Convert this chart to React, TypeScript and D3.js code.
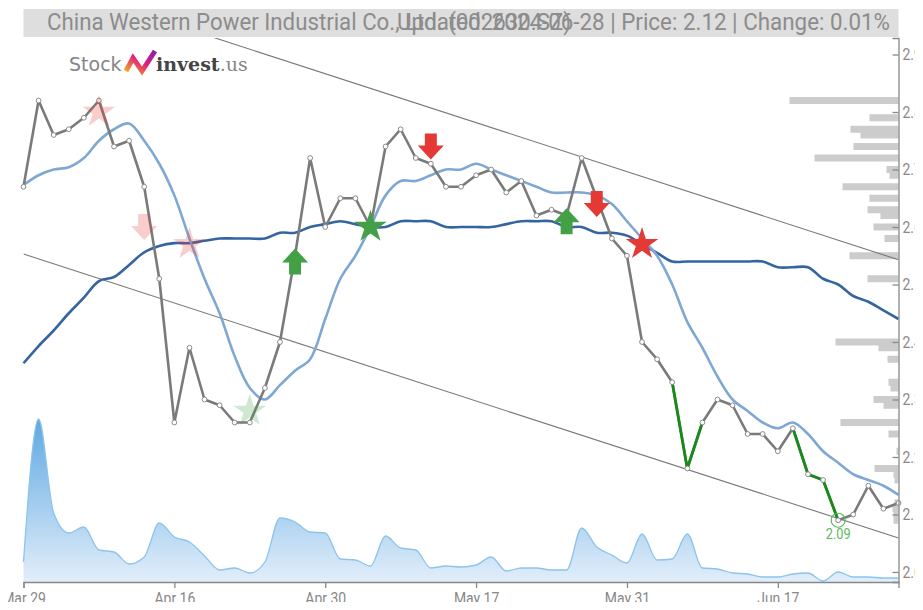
import React, { useRef, useEffect } from "react";
import * as d3 from "d3";

// trading days shown on the x axis
const dates = [
  "2024-03-29", "2024-04-01", "2024-04-02", "2024-04-03", "2024-04-08", "2024-04-09", "2024-04-10", "2024-04-11", "2024-04-12", "2024-04-15",
  "2024-04-16", "2024-04-17", "2024-04-18", "2024-04-19", "2024-04-22", "2024-04-23", "2024-04-24", "2024-04-25", "2024-04-26", "2024-04-29",
  "2024-04-30", "2024-05-06", "2024-05-07", "2024-05-08", "2024-05-09", "2024-05-10", "2024-05-13", "2024-05-14", "2024-05-15", "2024-05-16",
  "2024-05-17", "2024-05-20", "2024-05-21", "2024-05-22", "2024-05-23", "2024-05-24", "2024-05-27", "2024-05-28", "2024-05-29", "2024-05-30",
  "2024-05-31", "2024-06-03", "2024-06-04", "2024-06-05", "2024-06-06", "2024-06-07", "2024-06-11", "2024-06-12", "2024-06-13", "2024-06-14",
  "2024-06-17", "2024-06-18", "2024-06-19", "2024-06-20", "2024-06-21", "2024-06-24", "2024-06-25", "2024-06-26", "2024-06-27",
];

const closePrice = [
  2.67, 2.82, 2.76, 2.77, 2.79, 2.82, 2.74, 2.75, 2.67, 2.51,
  2.26, 2.39, 2.30, 2.29, 2.26, 2.26, 2.32, 2.40, 2.55, 2.72,
  2.60, 2.65, 2.65, 2.60, 2.74, 2.77, 2.72, 2.71, 2.67, 2.67,
  2.69, 2.70, 2.66, 2.68, 2.62, 2.63, 2.62, 2.72, 2.65, 2.58,
  2.55, 2.40, 2.37, 2.33, 2.18, 2.26, 2.30, 2.29, 2.24, 2.24,
  2.21, 2.25, 2.17, 2.16, 2.09, 2.10, 2.15, 2.11, 2.12,
];

// short moving average (light blue)
const maShort = [
  2.673, 2.69, 2.70, 2.704, 2.72, 2.75, 2.77, 2.78, 2.75, 2.71,
  2.655, 2.58, 2.51, 2.45, 2.375, 2.32, 2.30, 2.325, 2.35, 2.37,
  2.44, 2.51, 2.55, 2.60, 2.655, 2.68, 2.68, 2.69, 2.70, 2.70,
  2.71, 2.70, 2.69, 2.68, 2.67, 2.66, 2.66, 2.66, 2.655, 2.64,
  2.61, 2.58, 2.55, 2.50, 2.435, 2.39, 2.34, 2.30, 2.28, 2.26,
  2.25, 2.26, 2.24, 2.21, 2.19, 2.17, 2.16, 2.15, 2.134,
];

// long moving average (dark blue)
const maLong = [
  2.363, 2.393, 2.42, 2.45, 2.477, 2.506, 2.513, 2.534, 2.556, 2.567,
  2.572, 2.572, 2.576, 2.58, 2.58, 2.58, 2.58, 2.59, 2.59, 2.60,
  2.605, 2.61, 2.605, 2.60, 2.60, 2.61, 2.61, 2.61, 2.60, 2.60,
  2.60, 2.60, 2.605, 2.61, 2.61, 2.61, 2.60, 2.60, 2.59, 2.59,
  2.585, 2.57, 2.555, 2.54, 2.54, 2.54, 2.54, 2.54, 2.54, 2.54,
  2.53, 2.53, 2.53, 2.51, 2.50, 2.48, 2.47, 2.455, 2.44,
];

const volume = [
  20, 163, 69, 49, 55, 32, 30, 18, 25, 59,
  45, 40, 26, 12, 14, 9, 20, 64, 60, 50,
  49, 23, 22, 16, 46, 34, 32, 14, 16, 15,
  17, 25, 11, 14, 14, 12, 12, 54, 35, 27,
  19, 48, 22, 23, 48, 14, 13, 9, 8, 5,
  5, 8, 9, 1, 10, 5, 5, 4, 4,
];

// volume by price (right side)
const profilePrice = [
  2.82, 2.79, 2.77, 2.76, 2.74, 2.72, 2.70, 2.69, 2.67, 2.65,
  2.63, 2.62, 2.60, 2.58, 2.55, 2.51, 2.40, 2.39, 2.37, 2.33,
  2.32, 2.30, 2.29, 2.26, 2.24, 2.21, 2.18, 2.17, 2.16, 2.12,
  2.11, 2.10, 2.09,
];
const profileVolume = [
  109, 29, 48, 38, 45, 84, 12, 9, 56, 29,
  31, 18, 25, 14, 49, 31, 63, 20, 11, 10,
  8, 25, 15, 58, 10, 2, 24, 5, 4, 4,
  6, 5, 5,
];

// signals
const signalIdx = [5, 8, 11, 15, 18, 23, 27, 36, 38, 41];
const signalPrice = [2.80, 2.60, 2.57, 2.28, 2.54, 2.60, 2.74, 2.61, 2.64, 2.57];
const signalShape = ["star", "down", "star", "star", "up", "star", "down", "up", "down", "star"];
const signalSide = ["sell", "sell", "sell", "buy", "buy", "buy", "sell", "buy", "sell", "sell"];
const signalFaded = [true, true, true, true, false, false, false, false, false, false];

// falling stretches drawn in green [from, to]
const greenRuns = [[43, 45], [51, 54]];
const lowIdx = 54;

// trend channel: value at first and last day
const trendUpper = [3.037, 2.543];
const trendLower = [2.553, 2.059];

const yTicks = [2.0, 2.1, 2.2, 2.3, 2.4, 2.5, 2.6, 2.7, 2.8, 2.9];
const yDomain = [1.9826, 2.9287];
const tickEvery = 10;

const titleLeft = "China Western Power Industrial Co., Ltd. (002630.SZ)";
const titleRight = "Updated: 2024-06-28 | Price: 2.12 | Change: 0.01%";

const FONT = '"Liberation Sans Narrow", "Arial Narrow", Roboto, sans-serif';

// squeeze text horizontally, no narrow font is installed
function condense(sel: any, factor: number) {
  sel.each(function (this: SVGTextElement) {
    const w = this.getComputedTextLength();
    if (w > 0) {
      this.setAttribute("textLength", String(w * factor));
      this.setAttribute("lengthAdjust", "spacingAndGlyphs");
    }
  });
}

export default function App() {
  const svgRef = useRef<SVGSVGElement>(null);

  useEffect(() => {
    const svg = d3.select(svgRef.current);
    svg.selectAll("*").remove();

    const left = 15.5, right = 890.5, top = 30, bottom = 574;

    const x = d3.scalePoint<string>().domain(dates).range([left, right]);
    const xi = (i: number) => x(dates[i]) as number;
    const y = d3.scaleLinear().domain(yDomain).range([bottom, top]);
    const yVol = d3.scaleLinear().domain([0, d3.max(volume) as number]).range([bottom, 411]);
    const wProf = d3.scaleLinear().domain([0, d3.max(profileVolume) as number]).range([0, 109]);

    const defs = svg.append("defs");
    defs.append("clipPath").attr("id", "plotClip")
      .append("rect").attr("x", left).attr("y", top).attr("width", right - left).attr("height", bottom - top);
    const grad = defs.append("linearGradient").attr("id", "volGrad")
      .attr("gradientUnits", "userSpaceOnUse").attr("x1", 0).attr("x2", 0).attr("y1", 411).attr("y2", bottom);
    grad.append("stop").attr("offset", 0).attr("stop-color", "rgb(95,168,226)");
    grad.append("stop").attr("offset", 1).attr("stop-color", "rgb(226,238,250)");
    const logoGrad = defs.append("linearGradient").attr("id", "logoGrad").attr("x1", 0).attr("x2", 1).attr("y1", 1).attr("y2", 0);
    logoGrad.append("stop").attr("offset", 0).attr("stop-color", "#f5a623");
    logoGrad.append("stop").attr("offset", 0.5).attr("stop-color", "#e0207a");
    logoGrad.append("stop").attr("offset", 1).attr("stop-color", "#8a1fa8");

    // title bar
    svg.append("rect").attr("x", left).attr("y", 1).attr("width", right - left).attr("height", 28).attr("fill", "#dedede");
    svg.append("text").attr("x", 39).attr("y", 22).attr("font-family", FONT).attr("font-size", 24)
      .attr("fill", "#8c8c8c").attr("textLength", 524).attr("lengthAdjust", "spacingAndGlyphs").text(titleLeft);
    svg.append("text").attr("x", 882).attr("y", 22).attr("text-anchor", "end").attr("font-family", FONT)
      .attr("font-size", 24).attr("fill", "#8c8c8c").attr("textLength", 493).attr("lengthAdjust", "spacingAndGlyphs")
      .text(titleRight);

    // logo
    const logo = svg.append("g");
    logo.append("text").attr("x", 61).attr("y", 63).attr("font-family", "DejaVu Sans, sans-serif").attr("font-size", 19)
      .attr("fill", "#858585").text("Stock");
    logo.append("path").attr("d", "M118,63 L125,50 L134,63 L147,43").attr("fill", "none")
      .attr("stroke", "url(#logoGrad)").attr("stroke-width", 5).attr("stroke-linejoin", "miter");
    const inv = logo.append("text").attr("x", 148).attr("y", 63).attr("font-family", "DejaVu Serif, serif").attr("font-size", 19);
    inv.append("tspan").attr("font-weight", "bold").attr("fill", "#444").text("invest");
    inv.append("tspan").attr("fill", "#858585").text(".us");

    // volume area
    const area = d3.area<number>()
      .x((_, i) => xi(i)).y0(bottom).y1((d) => yVol(d))
      .curve(d3.curveMonotoneX);
    svg.append("path").datum(volume).attr("d", area).attr("fill", "url(#volGrad)");
    const vline = d3.line<number>().x((_, i) => xi(i)).y((d) => yVol(d)).curve(d3.curveMonotoneX);
    svg.append("path").datum(volume).attr("d", vline).attr("fill", "none")
      .attr("stroke", "rgb(140,196,236)").attr("stroke-width", 1.3);

    // volume by price bars
    svg.append("g").selectAll("rect").data(profilePrice).join("rect")
      .attr("x", (_, i) => right - wProf(profileVolume[i]))
      .attr("y", (d) => y(d) - 3.5)
      .attr("width", (_, i) => wProf(profileVolume[i]))
      .attr("height", 7)
      .attr("fill", "#cccccc");

    // trend channel
    const tg = svg.append("g").attr("clip-path", "url(#plotClip)");
    [trendUpper, trendLower].forEach((t) => {
      tg.append("line")
        .attr("x1", xi(0)).attr("y1", y(t[0]))
        .attr("x2", xi(dates.length - 1)).attr("y2", y(t[1]))
        .attr("stroke", "#777").attr("stroke-width", 1.1);
    });

    // moving averages
    const smooth = d3.line<number>().x((_, i) => xi(i)).y((d) => y(d)).curve(d3.curveCatmullRom);
    svg.append("path").datum(maLong).attr("d", smooth).attr("fill", "none")
      .attr("stroke", "#3465a0").attr("stroke-width", 2.6);
    svg.append("path").datum(maShort).attr("d", smooth).attr("fill", "none")
      .attr("stroke", "#7ea8d3").attr("stroke-width", 2.6);

    // price line
    const pline = d3.line<number>().x((_, i) => xi(i)).y((d) => y(d));
    svg.append("path").datum(closePrice).attr("d", pline).attr("fill", "none")
      .attr("stroke", "#7a7a7a").attr("stroke-width", 2.6).attr("stroke-linejoin", "round");
    greenRuns.forEach(([a, b]) => {
      const seg = d3.range(a, b + 1);
      svg.append("path")
        .attr("d", d3.line<number>().x((i) => xi(i)).y((i) => y(closePrice[i]))(seg))
        .attr("fill", "none").attr("stroke", "#178a17").attr("stroke-width", 2.8);
    });
    svg.append("g").selectAll("circle").data(closePrice).join("circle")
      .attr("cx", (_, i) => xi(i)).attr("cy", (d) => y(d)).attr("r", 2.4)
      .attr("fill", "#fff").attr("stroke", "#8a8a8a").attr("stroke-width", 1);

    // lowest point marker
    svg.append("circle").attr("cx", xi(lowIdx)).attr("cy", y(closePrice[lowIdx])).attr("r", 7)
      .attr("fill", "none").attr("stroke", "#5cb85c").attr("stroke-width", 1.2);
    const lowLabel = svg.append("text").attr("x", xi(lowIdx)).attr("y", y(closePrice[lowIdx]) + 19)
      .attr("text-anchor", "middle").attr("font-family", FONT).attr("font-size", 15)
      .attr("fill", "#5cb85c").text(closePrice[lowIdx].toFixed(2));
    condense(lowLabel, 0.85);

    // signals
    const arrowDown = "M-6,-13 L6,-13 L6,-1 L13,-1 L0,13 L-13,-1 L-6,-1 Z";
    const arrowUp = "M-6,13 L6,13 L6,1 L13,1 L0,-13 L-13,1 L-6,1 Z";
    const star = d3.symbol().type(d3.symbolStar).size(330)();
    signalIdx.forEach((idx, k) => {
      const shape = signalShape[k];
      const d = shape === "star" ? star : shape === "up" ? arrowUp : arrowDown;
      svg.append("path").attr("d", d as string)
        .attr("transform", `translate(${xi(idx)},${y(signalPrice[k])})`)
        .attr("fill", signalSide[k] === "buy" ? "#43a047" : "#e53935")
        .attr("opacity", signalFaded[k] ? 0.25 : 1);
    });

    // axes
    const xAxis = d3.axisBottom(x)
      .tickValues(dates.filter((_, i) => i % tickEvery === 0))
      .tickFormat((d) => d3.timeFormat("%b %d")(d3.timeParse("%Y-%m-%d")(d) as Date))
      .tickSize(6).tickPadding(4);
    const gx = svg.append("g").attr("transform", `translate(0,${bottom})`).call(xAxis);
    const yAxis = d3.axisRight(y).tickValues(yTicks).tickFormat(d3.format(".1f"))
      .tickSizeInner(-6).tickSizeOuter(-6).tickPadding(4);
    const gy = svg.append("g").attr("transform", `translate(${right},0)`).call(yAxis);
    [gx, gy].forEach((g) => {
      g.selectAll("path, line").attr("stroke", "#888").attr("stroke-width", 1.3);
      g.selectAll("text").attr("fill", "#888").attr("font-family", FONT).attr("font-size", 17);
      condense(g.selectAll("text"), 0.82);
    });
  }, []);

  return (
    <svg
      ref={svgRef}
      width={915}
      height={602}
      style={{ display: "block", marginBottom: -8 }}
    ></svg>
  );
}
